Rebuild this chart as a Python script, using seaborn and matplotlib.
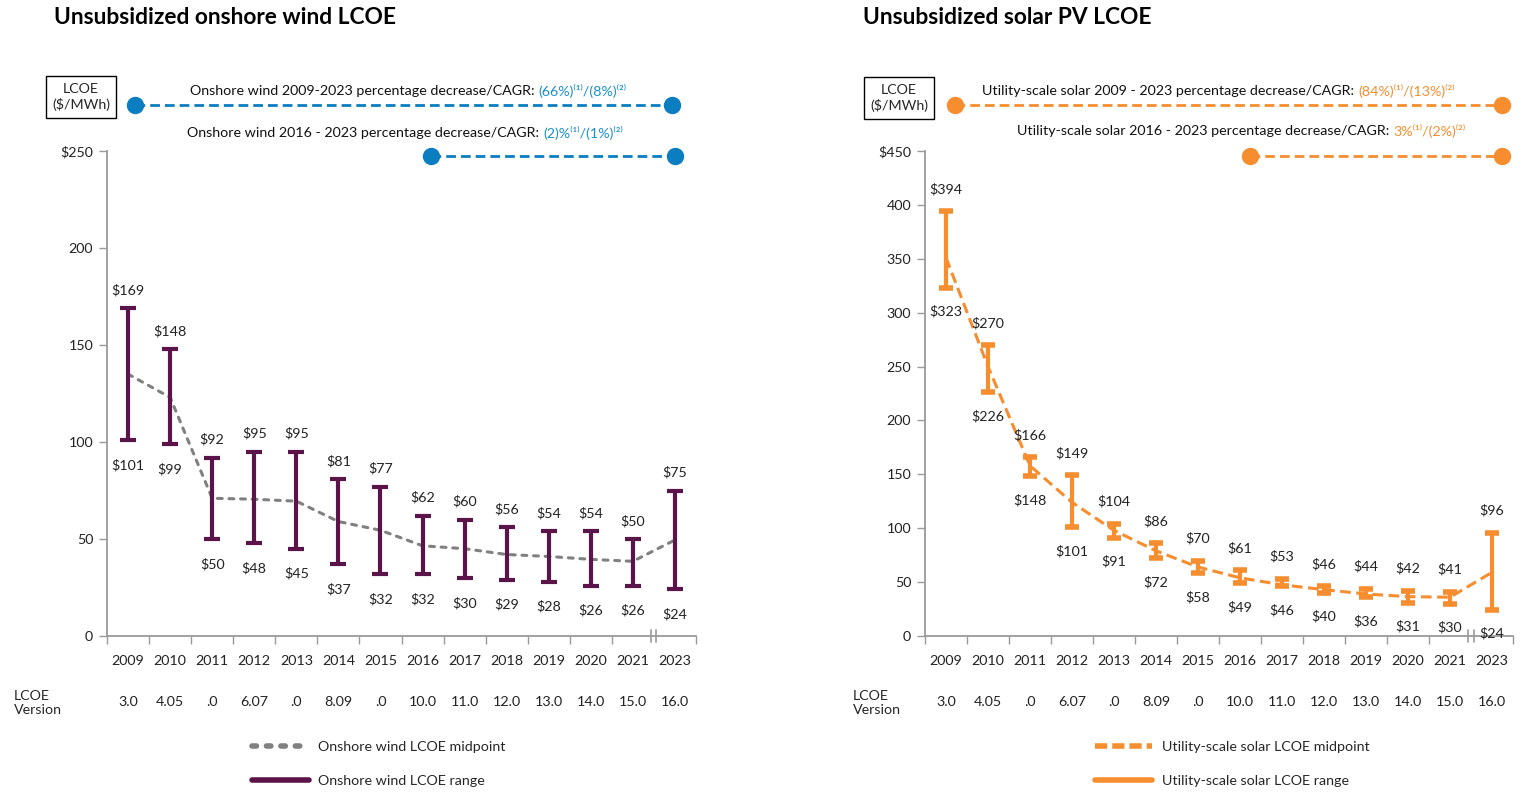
import numpy as np
import matplotlib.pyplot as plt
import seaborn as sns
from matplotlib.lines import Line2D

# --- data ---
years = ['2009', '2010', '2011', '2012', '2013', '2014', '2015',
         '2016', '2017', '2018', '2019', '2020', '2021', '2023']
versions = ['3.0', '4.05', '.0', '6.07', '.0', '8.09', '.0',
            '10.0', '11.0', '12.0', '13.0', '14.0', '15.0', '16.0']

wind_high = [169, 148, 92, 95, 95, 81, 77, 62, 60, 56, 54, 54, 50, 75]
wind_low = [101, 99, 50, 48, 45, 37, 32, 32, 30, 29, 28, 26, 26, 24]
wind_mid = [135, 123, 71, 70.5, 69.5, 59, 54.5, 46.5, 45, 42, 41, 39.5, 38.5, 49.5]

solar_high = [394, 270, 166, 149, 104, 86, 70, 61, 53, 46, 44, 42, 41, 96]
solar_low = [323, 226, 148, 101, 91, 72, 58, 49, 46, 40, 36, 31, 30, 24]
solar_mid = [351, 250, 158, 124, 98, 79, 64, 54, 47.5, 43, 39, 36.5, 36, 59]

WIND = '#5b1449'
SOLAR = '#f68d2e'
BLUE = '#0b7dc1'
BLUE_TXT = '#1a8fcf'
MID_GRAY = '#808080'
AXIS_GRAY = '#9a9a9a'
FS = 10.3

W, H = 1526, 793

sns.set_theme(style='white')
plt.rcParams['font.family'] = ['Lato', 'DejaVu Sans']
plt.rcParams['font.size'] = FS

fig = plt.figure(figsize=(W / 100, H / 100), dpi=100)


def fx(px):
    return px / W


def fy(py):
    return 1 - py / H


def draw_panel(ax, high, low, mid, ymax, color, mid_color, mid_dash, round_caps,
               capsize, capthick, top_off, bot_off):
    x = np.arange(len(years))
    high = np.array(high)
    low = np.array(low)

    # midpoint line
    sns.lineplot(x=x, y=mid, ax=ax, color=mid_color, lw=2.2, linestyle=mid_dash,
                 dash_capstyle='round' if round_caps else 'butt', zorder=2)
    # range bars
    ax.errorbar(x, (high + low) / 2, yerr=(high - low) / 2, fmt='none',
                ecolor=color, elinewidth=3, capsize=capsize, capthick=capthick, zorder=3)

    for i in range(len(x)):
        ax.annotate(f'${high[i]}', (i, high[i]), xytext=(0, top_off), textcoords='offset points',
                    ha='center', va='center', fontsize=FS, color='#222222')
        ax.annotate(f'${low[i]}', (i, low[i]), xytext=(0, -bot_off), textcoords='offset points',
                    ha='center', va='center', fontsize=FS, color='#222222')

    ax.set_xlim(-0.5, len(x) - 0.5)
    ax.set_ylim(0, ymax)
    yt = list(range(0, ymax + 1, 50))
    ax.set_yticks(yt, [f'${v}' if v == ymax else str(v) for v in yt])
    bounds = [b for b in np.arange(-0.5, len(x), 1.0) if abs(b - 12.5) > 0.01]
    ax.set_xticks(bounds, [''] * len(bounds))
    ax.set_xticks(x, years, minor=True)
    ax.tick_params(axis='y', length=6, width=1, color=AXIS_GRAY, labelsize=FS, pad=4,
                   left=True, labelcolor='#222222')
    ax.tick_params(axis='x', which='major', length=6, width=1, color=AXIS_GRAY, bottom=True)
    ax.tick_params(axis='x', which='minor', length=0, pad=14, labelsize=FS, labelcolor='#222222')
    for side in ['top', 'right']:
        ax.spines[side].set_visible(False)
    for side in ['left', 'bottom']:
        ax.spines[side].set_color(AXIS_GRAY)
        ax.spines[side].set_linewidth(1.3)

    # axis break marks between 2021 and 2023
    trans = ax.get_xaxis_transform()
    for bx in [12.44, 12.56]:
        ax.add_line(Line2D([bx, bx], [-0.013, 0.013], transform=trans, color=AXIS_GRAY,
                           lw=1.2, clip_on=False))

    # LCOE version row
    for i, v in enumerate(versions):
        ax.text(i, -0.136, v, transform=trans, ha='center', va='center', fontsize=FS,
                color='#222222')


ax_w = fig.add_axes([fx(107), 1 - 636 / H, 589 / W, 485 / H])
ax_s = fig.add_axes([fx(925), 1 - 636 / H, 588 / W, 485 / H])

draw_panel(ax_w, wind_high, wind_low, wind_mid, 250, WIND, MID_GRAY, (0, (1.6, 2.2)), True,
           6, 3, 13, 18)
draw_panel(ax_s, solar_high, solar_low, solar_mid, 450, SOLAR, SOLAR, (0, (3.5, 1.8)), False,
           5, 4, 16, 17)

# titles
fig.text(fx(54), fy(17), 'Unsubsidized onshore wind LCOE', fontsize=16.4, fontweight='bold',
         va='center', ha='left', color='black')
fig.text(fx(863), fy(17), 'Unsubsidized solar PV LCOE', fontsize=16.4, fontweight='bold',
         va='center', ha='left', color='black')

# LCOE unit boxes
for bx, by in [(81, 97), (899, 98)]:
    fig.text(fx(bx), fy(by), 'LCOE\n($/MWh)', ha='center', va='center', fontsize=FS,
             linespacing=1.3,
             bbox=dict(boxstyle='square,pad=0.45', fc='white', ec='black', lw=1))

# "LCOE Version" row labels
fig.text(fx(14), fy(703), 'LCOE\nVersion', ha='left', va='center', fontsize=FS, linespacing=1.3)
fig.text(fx(853), fy(703), 'LCOE\nVersion', ha='left', va='center', fontsize=FS, linespacing=1.3)


def change_line(x1, x2, y, color):
    fig.add_artist(Line2D([fx(x1), fx(x2)], [fy(y), fy(y)], transform=fig.transFigure,
                          color=color, lw=2, linestyle=(0, (3.5, 1.8))))
    fig.add_artist(Line2D([fx(x1), fx(x2)], [fy(y), fy(y)], transform=fig.transFigure,
                          color=color, lw=0, marker='o', markersize=11.5))


def change_text(x, y, label, value, color):
    t = fig.text(fx(x), fy(y), label, ha='left', va='center', fontsize=FS, color='#111111')
    ann = plt.annotate(value, xy=(1, 0.5), xycoords=t, xytext=(3, 0), textcoords='offset points',
                       ha='left', va='center', fontsize=FS, color=color)
    fig.add_artist(ann) if ann.figure is None else None


change_line(135, 672, 105, BLUE)
change_line(431, 675, 156, BLUE)
change_line(955, 1502, 105, SOLAR)
change_line(1250, 1502, 156, SOLAR)

change_text(190, 91, 'Onshore wind 2009-2023 percentage decrease/CAGR:', '(66%)⁽¹⁾/(8%)⁽²⁾', BLUE_TXT)
change_text(187, 133, 'Onshore wind 2016 - 2023 percentage decrease/CAGR:', '(2)%⁽¹⁾/(1%)⁽²⁾', BLUE_TXT)
change_text(982, 91, 'Utility-scale solar 2009 - 2023 percentage decrease/CAGR:', '(84%)⁽¹⁾/(13%)⁽²⁾', SOLAR)
change_text(1017, 131, 'Utility-scale solar 2016 - 2023 percentage decrease/CAGR:', '3%⁽¹⁾/(2%)⁽²⁾', SOLAR)

# legends
wind_handles = [Line2D([], [], color=MID_GRAY, lw=4, linestyle=(0, (0.8, 1.8)), dash_capstyle='round'),
                Line2D([], [], color=WIND, lw=4)]
ax_w.legend(wind_handles, ['Onshore wind LCOE midpoint', 'Onshore wind LCOE range'],
            loc='center left', bbox_to_anchor=((252 - 107) / 589, -0.264),
            frameon=False, handlelength=4.0, handletextpad=0.6, labelspacing=1.5,
            borderpad=0, borderaxespad=0, fontsize=FS)
solar_handles = [Line2D([], [], color=SOLAR, lw=4, linestyle=(0, (2.2, 0.9))),
                 Line2D([], [], color=SOLAR, lw=4)]
ax_s.legend(solar_handles, ['Utility-scale solar LCOE midpoint', 'Utility-scale solar LCOE range'],
            loc='center left', bbox_to_anchor=((1095 - 925) / 588, -0.264),
            frameon=False, handlelength=4.0, handletextpad=0.7, labelspacing=1.5,
            borderpad=0, borderaxespad=0, fontsize=FS)

fig.savefig('out.png', dpi=100)
